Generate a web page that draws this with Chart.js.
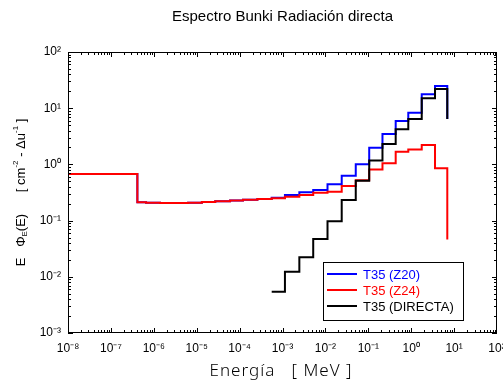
<!DOCTYPE html>
<html>
<head>
<meta charset="utf-8">
<script src="https://cdn.jsdelivr.net/npm/chart.js@4.4.0/dist/chart.umd.min.js"></script>
<style>
  html, body { margin: 0; padding: 0; background: #fff; }
  #wrap { width: 503px; height: 385px; }
</style>
</head>
<body>
<div id="wrap"><canvas id="chart" width="503" height="385"></canvas></div>
<script>
// bin edges (MeV), shared by the three spectra
const energyEdges = [1e-8, 4.14e-7, 6.6e-7, 1.4e-6, 2.95e-6, 6.3e-6, 1.32e-5, 2.7e-5, 6.0e-5, 1.2e-4,
  2.6e-4, 5.6e-4, 1.14e-3, 2.47e-3, 5.2e-3, 1.12e-2, 2.4e-2, 5.1e-2, 0.105, 0.214, 0.435, 0.855, 1.76, 3.59, 6.94];

// one value per bin, plus the value the line drops to after the last edge
const z20Values = [0.675, 0.212, 0.208, 0.206, 0.206, 0.208, 0.214, 0.22, 0.228, 0.236, 0.242,
  0.255, 0.286, 0.319, 0.35, 0.443, 0.63, 1.01, 1.98, 3.47, 5.9, 8.3, 17.7, 24.8];
const z20End = 6.4;

const z24Values = [0.675, 0.212, 0.208, 0.206, 0.206, 0.208, 0.214, 0.22, 0.228, 0.236, 0.242,
  0.249, 0.266, 0.286, 0.313, 0.327, 0.413, 0.52, 0.81, 1.05, 1.68, 1.84, 2.21, 0.853];
const z24End = 0.046;

const directaValues = [null, null, null, null, null, null, null, null, null, null, null,
  0.0054, 0.0123, 0.0222, 0.047, 0.097, 0.233, 0.51, 1.17, 2.31, 4.2, 6.4, 15, 22];
const directaEnd = 6.4;

const seriesNames = ['T35 (Z20)', 'T35 (Z24)', 'T35 (DIRECTA)'];
const seriesColors = ['#0000ff', '#ff0000', '#000000'];

const xTicks = [1e-8, 1e-7, 1e-6, 1e-5, 1e-4, 1e-3, 1e-2, 1e-1, 1e0, 1e1, 1e2];
const yTicks = [1e-3, 1e-2, 1e-1, 1e0, 1e1, 1e2];

const sup = { '-': '\u207B', '0': '\u2070', '1': '\u00B9', '2': '\u00B2', '3': '\u00B3', '4': '\u2074',
  '5': '\u2075', '6': '\u2076', '7': '\u2077', '8': '\u2078', '9': '\u2079' };
const powLabel = (v) => {
  const e = Math.round(Math.log10(v));
  return '10' + String(e).split('').map(c => sup[c]).join('');
};

const steps = (values, end) => {
  const pts = values.map((v, i) => ({ x: energyEdges[i], y: v }));
  pts.push({ x: energyEdges[values.length], y: values[values.length - 1] });
  pts.push({ x: energyEdges[values.length], y: end });
  return pts;
};

const FONT = '"Liberation Sans", Arial, sans-serif';

// box, inward ticks, title, axis titles and legend
const decor = {
  id: 'decor',
  afterDatasetsDraw(chart) {
    const { ctx, chartArea: a, scales: { x, y } } = chart;
    ctx.save();
    ctx.strokeStyle = '#000';
    ctx.lineWidth = 1;
    ctx.strokeRect(a.left + 0.5, a.top + 0.5, a.right - a.left - 1, a.bottom - a.top - 1);

    ctx.beginPath();
    for (let k = -8; k < 2; k++) {
      for (let m = 1; m <= 9; m++) {
        const px = Math.round(x.getPixelForValue(m * Math.pow(10, k))) + 0.5;
        const len = m === 1 ? 5 : 3;
        ctx.moveTo(px, a.bottom); ctx.lineTo(px, a.bottom - len);
        ctx.moveTo(px, a.top); ctx.lineTo(px, a.top + len);
      }
    }
    for (let k = -3; k < 2; k++) {
      for (let m = 1; m <= 9; m++) {
        const py = Math.round(y.getPixelForValue(m * Math.pow(10, k))) + 0.5;
        const len = m === 1 ? 5 : 3;
        ctx.moveTo(a.left, py); ctx.lineTo(a.left + len, py);
        ctx.moveTo(a.right, py); ctx.lineTo(a.right - len, py);
      }
    }
    ctx.stroke();

    // title
    ctx.fillStyle = '#000';
    ctx.font = '15px ' + FONT;
    ctx.textAlign = 'center';
    ctx.textBaseline = 'middle';
    ctx.fillText('Espectro Bunki Radiación directa', (a.left + a.right) / 2, 17);

    // x title
    ctx.font = '300 17px "Noto Sans", sans-serif';
    ctx.letterSpacing = '1px';
    ctx.fillText('Energía   [ MeV ]', 281, 371);
    ctx.letterSpacing = '0px';

    // y title, rotated, with sub/superscripts
    ctx.save();
    ctx.translate(21, (a.top + a.bottom) / 2);
    ctx.rotate(-Math.PI / 2);
    const parts = [
      ['E   \u03A6', 13, 0], ['E', 8, 4], ['(E)      [ cm', 13, 0], ['-2', 8, -5],
      [' - \u0394u', 13, 0], ['-1', 8, -5], [' ]', 13, 0]
    ];
    let total = 0;
    parts.forEach(p => { ctx.font = p[1] + 'px ' + FONT; total += ctx.measureText(p[0]).width; });
    let cx = -total / 2;
    ctx.textAlign = 'left';
    parts.forEach(p => {
      ctx.font = p[1] + 'px ' + FONT;
      ctx.fillText(p[0], cx, p[2]);
      cx += ctx.measureText(p[0]).width;
    });
    ctx.restore();

    // legend
    const lx = 323, ly = 262, lw = 140, lh = 58;
    ctx.fillStyle = '#fff';
    ctx.fillRect(lx, ly, lw, lh);
    ctx.strokeStyle = '#000';
    ctx.strokeRect(lx + 0.5, ly + 0.5, lw, lh);
    ctx.font = '13px ' + FONT;
    ctx.textAlign = 'left';
    seriesNames.forEach((name, i) => {
      const ry = ly + 12 + i * 16;
      ctx.strokeStyle = seriesColors[i];
      ctx.lineWidth = 2;
      ctx.beginPath();
      ctx.moveTo(lx + 4, ry); ctx.lineTo(lx + 34, ry);
      ctx.stroke();
      ctx.fillStyle = seriesColors[i];
      ctx.fillText(name, lx + 40, ry + 1);
    });
    ctx.restore();
  }
};

const mk = (i, values, end, order) => ({
  label: seriesNames[i],
  data: steps(values, end),
  borderColor: seriesColors[i],
  backgroundColor: seriesColors[i],
  borderWidth: 2,
  pointRadius: 0,
  stepped: 'before',
  spanGaps: false,
  order: order
});

new Chart(document.getElementById('chart'), {
  type: 'line',
  data: {
    datasets: [
      mk(0, z20Values, z20End, 2),
      mk(1, z24Values, z24End, 1),
      mk(2, directaValues, directaEnd, 0)
    ]
  },
  options: {
    responsive: false,
    animation: false,
    layout: { padding: { top: 52, right: 6, left: 0, bottom: 0 } },
    plugins: { legend: { display: false }, tooltip: { enabled: false }, title: { display: false } },
    scales: {
      x: {
        type: 'logarithmic',
        min: 1e-8, max: 1e2,
        grid: { display: false, drawTicks: false },
        border: { display: false },
        afterBuildTicks: s => { s.ticks = xTicks.map(v => ({ value: v })); },
        afterFit: s => { s.height = 52; s.paddingLeft = 0; s.paddingRight = 0; },
        ticks: {
          autoSkip: false, maxRotation: 0, padding: 8, color: '#000',
          font: { family: FONT, size: 12 },
          callback: v => powLabel(v)
        }
      },
      y: {
        type: 'logarithmic',
        min: 1e-3, max: 1e2,
        grid: { display: false, drawTicks: false },
        border: { display: false },
        afterBuildTicks: s => { s.ticks = yTicks.map(v => ({ value: v })); },
        afterFit: s => { s.width = 68; },
        ticks: {
          autoSkip: false, padding: 7, color: '#000',
          font: { family: FONT, size: 12 },
          callback: v => powLabel(v)
        }
      }
    }
  },
  plugins: [decor]
});
</script>
</body>
</html>
